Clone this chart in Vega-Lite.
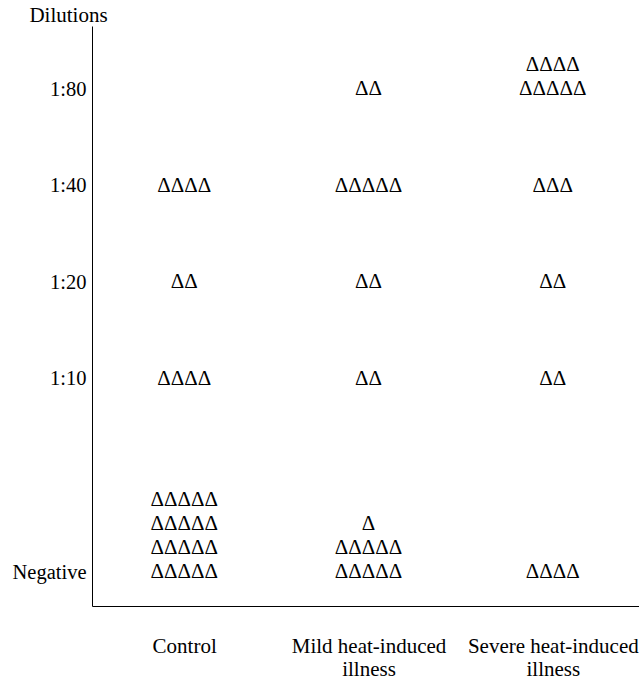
{
  "$schema": "https://vega.github.io/schema/vega-lite/v6.json",
  "autosize": "none",
  "width": 553,
  "height": 580,
  "padding": {"left": 92, "top": 26, "right": 0, "bottom": 74},
  "background": "white",
  "config": {
    "view": {"stroke": null},
    "font": "Liberation Serif, Times New Roman, DejaVu Serif, serif",
    "axis": {
      "domainColor": "black",
      "domainWidth": 1,
      "ticks": false,
      "grid": false,
      "labelColor": "black",
      "labelFont": "Liberation Serif, Times New Roman, DejaVu Serif, serif",
      "titleFont": "Liberation Serif, Times New Roman, DejaVu Serif, serif",
      "titleColor": "black",
      "titleFontWeight": "normal"
    }
  },
  "data": {
    "values": [
      {"group": "Control", "dilution": "1:40", "line": 0, "n": 4},
      {"group": "Control", "dilution": "1:20", "line": 0, "n": 2},
      {"group": "Control", "dilution": "1:10", "line": 0, "n": 4},
      {"group": "Control", "dilution": "Negative", "line": 0, "n": 5},
      {"group": "Control", "dilution": "Negative", "line": 1, "n": 5},
      {"group": "Control", "dilution": "Negative", "line": 2, "n": 5},
      {"group": "Control", "dilution": "Negative", "line": 3, "n": 5},
      {"group": "Mild heat-induced illness", "dilution": "1:80", "line": 0, "n": 2},
      {"group": "Mild heat-induced illness", "dilution": "1:40", "line": 0, "n": 5},
      {"group": "Mild heat-induced illness", "dilution": "1:20", "line": 0, "n": 2},
      {"group": "Mild heat-induced illness", "dilution": "1:10", "line": 0, "n": 2},
      {"group": "Mild heat-induced illness", "dilution": "Negative", "line": 0, "n": 5},
      {"group": "Mild heat-induced illness", "dilution": "Negative", "line": 1, "n": 5},
      {"group": "Mild heat-induced illness", "dilution": "Negative", "line": 2, "n": 1},
      {"group": "Severe heat-induced illness", "dilution": "1:80", "line": 0, "n": 5},
      {"group": "Severe heat-induced illness", "dilution": "1:80", "line": 1, "n": 4},
      {"group": "Severe heat-induced illness", "dilution": "1:40", "line": 0, "n": 3},
      {"group": "Severe heat-induced illness", "dilution": "1:20", "line": 0, "n": 2},
      {"group": "Severe heat-induced illness", "dilution": "1:10", "line": 0, "n": 2},
      {"group": "Severe heat-induced illness", "dilution": "Negative", "line": 0, "n": 4}
    ]
  },
  "encoding": {
    "x": {
      "field": "group",
      "type": "nominal",
      "scale": {
        "domain": ["Control", "Mild heat-induced illness", "Severe heat-induced illness"],
        "paddingInner": 0,
        "paddingOuter": 0
      },
      "axis": {
        "title": null,
        "labelAngle": 0,
        "labelFontSize": 21,
        "labelPadding": 29,
        "labelLineHeight": 23,
        "labelLimit": 400,
        "labelExpr": "datum.value == 'Control' ? 'Control' : [replace(datum.value, ' illness', ''), 'illness']"
      }
    },
    "y": {
      "field": "dilution",
      "type": "ordinal",
      "scale": {
        "type": "point",
        "domain": ["1:80", "1:40", "1:20", "1:10", " ", "Negative"],
        "padding": 0.502,
        "align": 0.65
      },
      "axis": {
        "title": "Dilutions",
        "titleAngle": 0,
        "titleFontSize": 21,
        "titleX": -24,
        "titleY": -11,
        "titleAlign": "center",
        "titleBaseline": "middle",
        "labelFontSize": 20.5,
        "labelPadding": 6
      }
    },
    "text": {
      "condition": [
        {"test": "datum.n === 1", "value": "Δ"},
        {"test": "datum.n === 2", "value": "ΔΔ"},
        {"test": "datum.n === 3", "value": "ΔΔΔ"},
        {"test": "datum.n === 4", "value": "ΔΔΔΔ"}
      ],
      "value": "ΔΔΔΔΔ"
    }
  },
  "layer": [
    {
      "transform": [{"filter": "datum.line === 0"}],
      "mark": {"type": "text", "font": "Liberation Serif, Times New Roman, DejaVu Serif, serif", "fontSize": 21, "color": "black", "dy": 0}
    },
    {
      "transform": [{"filter": "datum.line === 1"}],
      "mark": {"type": "text", "font": "Liberation Serif, Times New Roman, DejaVu Serif, serif", "fontSize": 21, "color": "black", "dy": -24}
    },
    {
      "transform": [{"filter": "datum.line === 2"}],
      "mark": {"type": "text", "font": "Liberation Serif, Times New Roman, DejaVu Serif, serif", "fontSize": 21, "color": "black", "dy": -48}
    },
    {
      "transform": [{"filter": "datum.line === 3"}],
      "mark": {"type": "text", "font": "Liberation Serif, Times New Roman, DejaVu Serif, serif", "fontSize": 21, "color": "black", "dy": -72}
    }
  ]
}
